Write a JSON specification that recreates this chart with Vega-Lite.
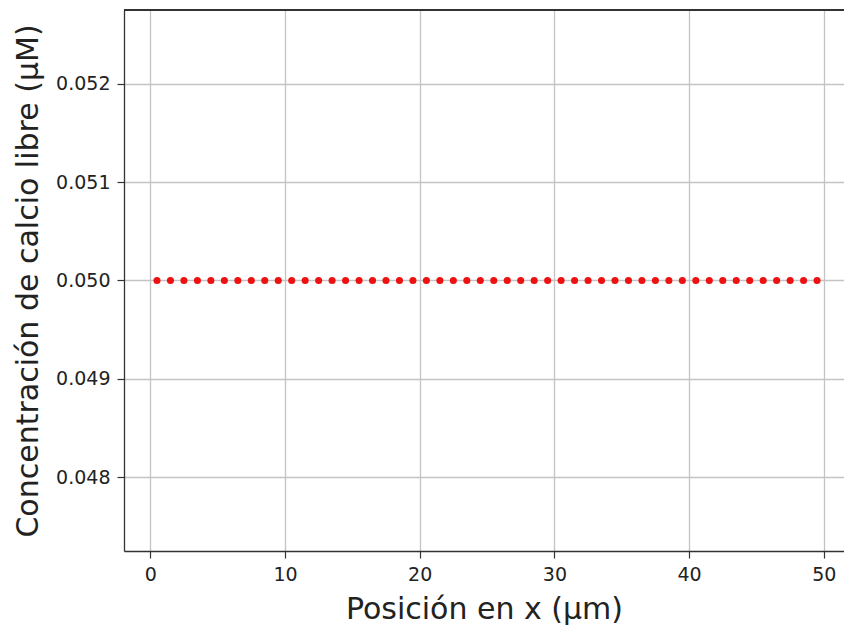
{
  "$schema": "https://vega.github.io/schema/vega-lite/v6.json",
  "autosize": "none",
  "width": 720,
  "height": 541,
  "padding": {"left": 124, "top": 10, "right": 0, "bottom": 78},
  "background": "white",
  "config": {
    "view": {"stroke": null},
    "font": "DejaVu Sans",
    "axis": {
      "labelFont": "DejaVu Sans",
      "titleFont": "DejaVu Sans",
      "labelFontSize": 19,
      "titleFontSize": 30,
      "titleFontWeight": "normal",
      "labelColor": "#222222",
      "titleColor": "#222222",
      "domainColor": "#333333",
      "domainWidth": 1.3,
      "tickColor": "#333333",
      "tickSize": 7,
      "tickWidth": 1.2,
      "gridColor": "#c4c4c4",
      "gridWidth": 1.3,
      "labelPadding": 7
    }
  },
  "data": {
    "values": [
      {"x": 0.5, "c": 0.05}, {"x": 1.5, "c": 0.05}, {"x": 2.5, "c": 0.05}, {"x": 3.5, "c": 0.05}, {"x": 4.5, "c": 0.05},
      {"x": 5.5, "c": 0.05}, {"x": 6.5, "c": 0.05}, {"x": 7.5, "c": 0.05}, {"x": 8.5, "c": 0.05}, {"x": 9.5, "c": 0.05},
      {"x": 10.5, "c": 0.05}, {"x": 11.5, "c": 0.05}, {"x": 12.5, "c": 0.05}, {"x": 13.5, "c": 0.05}, {"x": 14.5, "c": 0.05},
      {"x": 15.5, "c": 0.05}, {"x": 16.5, "c": 0.05}, {"x": 17.5, "c": 0.05}, {"x": 18.5, "c": 0.05}, {"x": 19.5, "c": 0.05},
      {"x": 20.5, "c": 0.05}, {"x": 21.5, "c": 0.05}, {"x": 22.5, "c": 0.05}, {"x": 23.5, "c": 0.05}, {"x": 24.5, "c": 0.05},
      {"x": 25.5, "c": 0.05}, {"x": 26.5, "c": 0.05}, {"x": 27.5, "c": 0.05}, {"x": 28.5, "c": 0.05}, {"x": 29.5, "c": 0.05},
      {"x": 30.5, "c": 0.05}, {"x": 31.5, "c": 0.05}, {"x": 32.5, "c": 0.05}, {"x": 33.5, "c": 0.05}, {"x": 34.5, "c": 0.05},
      {"x": 35.5, "c": 0.05}, {"x": 36.5, "c": 0.05}, {"x": 37.5, "c": 0.05}, {"x": 38.5, "c": 0.05}, {"x": 39.5, "c": 0.05},
      {"x": 40.5, "c": 0.05}, {"x": 41.5, "c": 0.05}, {"x": 42.5, "c": 0.05}, {"x": 43.5, "c": 0.05}, {"x": 44.5, "c": 0.05},
      {"x": 45.5, "c": 0.05}, {"x": 46.5, "c": 0.05}, {"x": 47.5, "c": 0.05}, {"x": 48.5, "c": 0.05}, {"x": 49.5, "c": 0.05}
    ]
  },
  "layer": [
    {
      "mark": {"type": "circle", "color": "#ee1111", "opacity": 1, "size": 50},
      "encoding": {
        "x": {
          "field": "x",
          "type": "quantitative",
          "scale": {"domain": [-1.95, 51.5], "nice": false, "zero": false},
          "axis": {
            "title": "Posición en x (µm)",
            "values": [0, 10, 20, 30, 40, 50],
            "format": "d",
            "titlePadding": 10
          }
        },
        "y": {
          "field": "c",
          "type": "quantitative",
          "scale": {"domain": [0.04725, 0.05275], "nice": false, "zero": false},
          "axis": {
            "title": "Concentración de calcio libre (µM)",
            "values": [0.048, 0.049, 0.05, 0.051, 0.052],
            "format": ".3f",
            "titlePadding": 12
          }
        }
      }
    },
    {
      "mark": {"type": "rule", "color": "#333333", "strokeWidth": 1.3},
      "encoding": {"y": {"datum": 0.05275}}
    }
  ]
}
